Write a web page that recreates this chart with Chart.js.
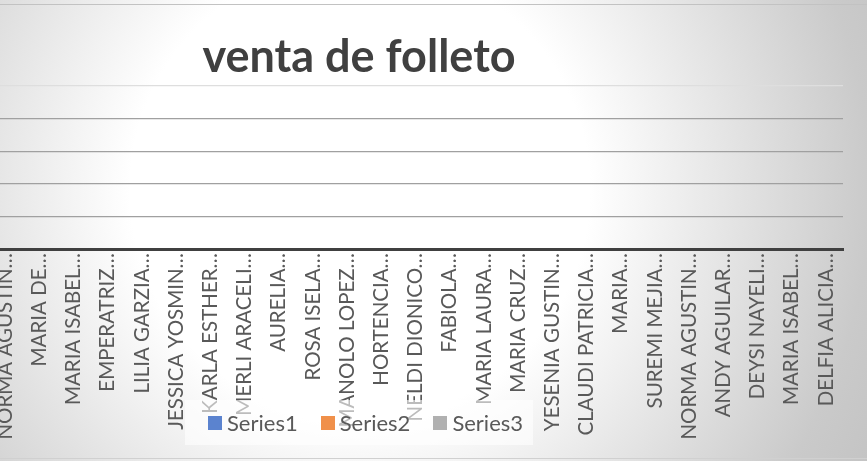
<!DOCTYPE html>
<html>
<head>
<meta charset="utf-8">
<script src="https://cdn.jsdelivr.net/npm/chart.js@4"></script>
<style>
  html, body {
    margin: 0;
    padding: 0;
    width: 867px;
    height: 461px;
    overflow: hidden;
  }
  body {
    position: relative;
    background: radial-gradient(circle at 360px 190px, #ffffff 230px, #cacaca 510px, #c0c0c0 620px);
    font-family: "Lato", "Open Sans", sans-serif;
  }
  #frame {
    position: absolute;
    left: 0;
    top: 4px;
    width: 867px;
    height: 453px;
    border-top: 1px solid #c2c2c2;
    border-bottom: 1px solid #d0d0d0;
  }
  #wrap {
    position: absolute;
    left: -12px;
    top: 0;
    width: 879px;
    height: 461px;
  }
  #title {
    position: absolute;
    left: 109px;
    width: 500px;
    top: 28px;
    line-height: 54px;
    text-align: center;
    font-weight: bold;
    font-size: 45px;
    color: #404040;
  }
  #legend {
    position: absolute;
    left: 185px;
    top: 400px;
    width: 348px;
    height: 45px;
    box-sizing: border-box;
    padding-left: 23px;
    background: rgba(255, 255, 255, 0.6);
    display: flex;
    align-items: center;
    justify-content: flex-start;
    gap: 23px;
  }
  .item {
    display: flex;
    align-items: center;
    font-size: 22px;
    color: #595959;
  }
  .box {
    width: 14px;
    height: 14px;
    margin-right: 5px;
  }
</style>
</head>
<body>
<div id="frame"></div>
<div id="wrap"><canvas id="chart"></canvas></div>
<div id="title">venta de folleto</div>
<div id="legend"></div>

<script>
// names shown on the x axis (already cut off in the original)
const names = [
  "NORMA AGUSTIN…", "MARIA DE…", "MARIA ISABEL…", "EMPERATRIZ…", "LILIA GARZIA…",
  "JESSICA YOSMIN…", "KARLA ESTHER…", "MERLI ARACELI…", "AURELIA…", "ROSA ISELA…",
  "MANOLO LOPEZ…", "HORTENCIA…", "NELDI DIONICO…", "FABIOLA…", "MARIA LAURA…",
  "MARIA CRUZ…", "YESENIA GUSTIN…", "CLAUDI PATRICIA…", "MARIA…", "SUREMI MEJIA…",
  "NORMA AGUSTIN…", "ANDY AGUILAR…", "DEYSI NAYELI…", "MARIA ISABEL…", "DELFIA ALICIA…"
];

// no bars are visible, every value is 0
const series1 = [0, 0, 0, 0, 0, 0, 0, 0, 0, 0, 0, 0, 0, 0, 0, 0, 0, 0, 0, 0, 0, 0, 0, 0, 0];
const series2 = [0, 0, 0, 0, 0, 0, 0, 0, 0, 0, 0, 0, 0, 0, 0, 0, 0, 0, 0, 0, 0, 0, 0, 0, 0];
const series3 = [0, 0, 0, 0, 0, 0, 0, 0, 0, 0, 0, 0, 0, 0, 0, 0, 0, 0, 0, 0, 0, 0, 0, 0, 0];

const yMin = 0;
const yMax = 5;
const yStep = 1;

const ctx = document.getElementById("chart");

const chart = new Chart(ctx, {
  type: "bar",
  data: {
    labels: names,
    datasets: [
      { label: "Series1", data: series1, backgroundColor: "#5b83cf" },
      { label: "Series2", data: series2, backgroundColor: "#f0904a" },
      { label: "Series3", data: series3, backgroundColor: "#b0b0b0" }
    ]
  },
  options: {
    responsive: true,
    maintainAspectRatio: false,
    animation: false,
    layout: {
      padding: { top: 86, right: 24, bottom: 0, left: 0 }
    },
    plugins: {
      legend: { display: false },
      title: { display: false },
      tooltip: { enabled: false }
    },
    scales: {
      x: {
        grid: { display: false, drawTicks: false },
        border: { display: true, color: "#404040", width: 3 },
        ticks: {
          autoSkip: false,
          minRotation: 90,
          maxRotation: 90,
          padding: 4,
          color: "#595959",
          font: { family: "Lato", size: 20.5 }
        },
        afterFit: s => { s.height = 212; }
      },
      y: {
        min: yMin,
        max: yMax,
        ticks: { display: false, stepSize: yStep },
        grid: {
          drawTicks: false,
          color: c => (c.tick && c.tick.value === yMax ? "#dedede" : "#a0a0a0"),
          lineWidth: 1.3
        },
        border: { display: false },
        afterFit: s => { s.width = 0; }
      }
    }
  }
});

// legend built from the datasets
const legend = document.getElementById("legend");
chart.data.datasets.forEach(d => {
  const item = document.createElement("div");
  item.className = "item";
  const box = document.createElement("span");
  box.className = "box";
  box.style.background = d.backgroundColor;
  const txt = document.createElement("span");
  txt.innerText = d.label;
  item.appendChild(box);
  item.appendChild(txt);
  legend.appendChild(item);
});
</script>
</body>
</html>
